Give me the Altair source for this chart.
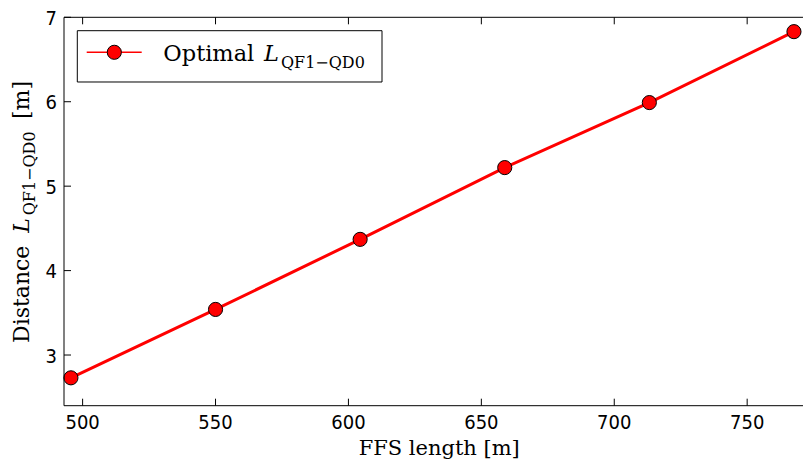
import altair as alt
import pandas as pd

# ---- data ----
ffs_length = [495.6, 550.0, 604.4, 658.8, 713.2, 767.6]
distance = [2.73, 3.54, 4.37, 5.22, 5.99, 6.83]
x_ticks = [500, 550, 600, 650, 700, 750]
y_ticks = [3, 4, 5, 6, 7]
x_domain = [493, 771]
y_domain = [2.4, 7.0]

x_title = "FFS length [m]"
y_title_main = "Distance"
y_title_var = "L"
y_title_sub = "QF1\u2212QD0"
y_title_unit = "[m]"
legend_label = "Optimal"
legend_var = "L"
legend_sub = "QF1\u2212QD0"

# ---- layout / style ----
W = 739
H = 388.4
SERIF = "DejaVu Serif"
SANS = "DejaVu Sans Condensed, DejaVu Sans"
RED = "#ff0000"

df = pd.DataFrame({"ffs": ffs_length, "dist": distance})
xt = pd.DataFrame({"t": x_ticks})
yt = pd.DataFrame({"t": y_ticks})
one = pd.DataFrame({"k": [0]})

xs = alt.Scale(domain=x_domain, nice=False, zero=False)
ys = alt.Scale(domain=y_domain, nice=False, zero=False)

X = alt.X("ffs:Q", scale=xs, axis=None)
Y = alt.Y("dist:Q", scale=ys, axis=None)
XT = alt.X("t:Q", scale=xs, axis=None)
YT = alt.Y("t:Q", scale=ys, axis=None)

line = alt.Chart(df).mark_line(color=RED, strokeWidth=3).encode(x=X, y=Y)
pts = alt.Chart(df).mark_circle(size=200, color=RED, stroke="black", strokeWidth=1,
                                opacity=1).encode(x=X, y=Y)

# spines (right one lies beyond the picture in the reference)
spine_l = alt.Chart(one).mark_rule(color="black", strokeWidth=1).encode(
    x=alt.value(0), y=alt.value(0), y2=alt.value(H))
spine_t = alt.Chart(one).mark_rule(color="black", strokeWidth=1).encode(
    x=alt.value(0), x2=alt.value(W), y=alt.value(0))
spine_b = alt.Chart(one).mark_rule(color="black", strokeWidth=1).encode(
    x=alt.value(0), x2=alt.value(W), y=alt.value(H))

tick_len = 7
bottom_ticks = alt.Chart(xt).mark_rule(color="black", strokeWidth=1).encode(
    x=XT, y=alt.value(H), y2=alt.value(H - tick_len))
top_ticks = alt.Chart(xt).mark_rule(color="black", strokeWidth=1).encode(
    x=XT, y=alt.value(0), y2=alt.value(tick_len))
left_ticks = alt.Chart(yt).mark_rule(color="black", strokeWidth=1).encode(
    y=YT, x=alt.value(0), x2=alt.value(tick_len))

# tick labels
x_labels = alt.Chart(xt).mark_text(font=SANS, fontSize=20, align="center",
                                   baseline="alphabetic", color="black").encode(
    x=XT, y=alt.value(H + 23), text=alt.Text("t:Q", format="d"))
y_labels = alt.Chart(yt).mark_text(font=SANS, fontSize=20, align="right",
                                   baseline="middle", dy=1.5, color="black").encode(
    y=YT, x=alt.value(-7), text=alt.Text("t:Q", format="d"))


def txt(text, x, y, size, angle=0, italic=False, align="left"):
    kw = dict(text=text, font=SERIF, fontSize=size, align=align, baseline="alphabetic",
              color="black")
    if angle:
        kw["angle"] = angle
    if italic:
        kw["fontStyle"] = "italic"
    return alt.Chart(one).mark_text(**kw).encode(x=alt.value(x), y=alt.value(y))


# axis titles
xt_mark = txt(x_title, 375.2, 438, 21, align="center")
yt1 = txt(y_title_main, -35, 325.7, 22, angle=270)
yt2 = txt(y_title_var, -35, 215.4, 22, angle=270, italic=True)
yt3 = txt(y_title_sub, -29.5, 198, 16, angle=270)
yt4 = txt(y_title_unit, -35, 101.7, 22, angle=270)

# legend
leg_box = alt.Chart(one).mark_rect(fill="white", stroke="black", strokeWidth=1).encode(
    x=alt.value(13.3), x2=alt.value(318), y=alt.value(13.4), y2=alt.value(64.7))
leg_line = alt.Chart(one).mark_rule(color=RED, strokeWidth=1.5).encode(
    x=alt.value(22.7), x2=alt.value(77.7), y=alt.value(35))
leg_pt = alt.Chart(one).mark_circle(size=200, color=RED, stroke="black", strokeWidth=1,
                                    opacity=1).encode(x=alt.value(50.3), y=alt.value(35))
leg_t1 = txt(legend_label, 99.3, 43.4, 22.5)
leg_t2 = txt(legend_var, 200, 43.4, 22.5, italic=True)
leg_t3 = txt(legend_sub, 217, 51, 16)

chart = alt.layer(
    line, pts, spine_l, spine_t, spine_b, bottom_ticks, top_ticks, left_ticks,
    x_labels, y_labels,
    xt_mark, yt1, yt2, yt3, yt4,
    leg_box, leg_line, leg_pt, leg_t1, leg_t2, leg_t3,
).properties(
    width=W, height=H,
    autosize=alt.AutoSizeParams(type="none"),
    padding={"left": 56, "top": 9.3, "right": 0, "bottom": 54},
).configure_view(stroke=None)

chart.save("out.html", embed_options={"renderer": "svg", "actions": False})
